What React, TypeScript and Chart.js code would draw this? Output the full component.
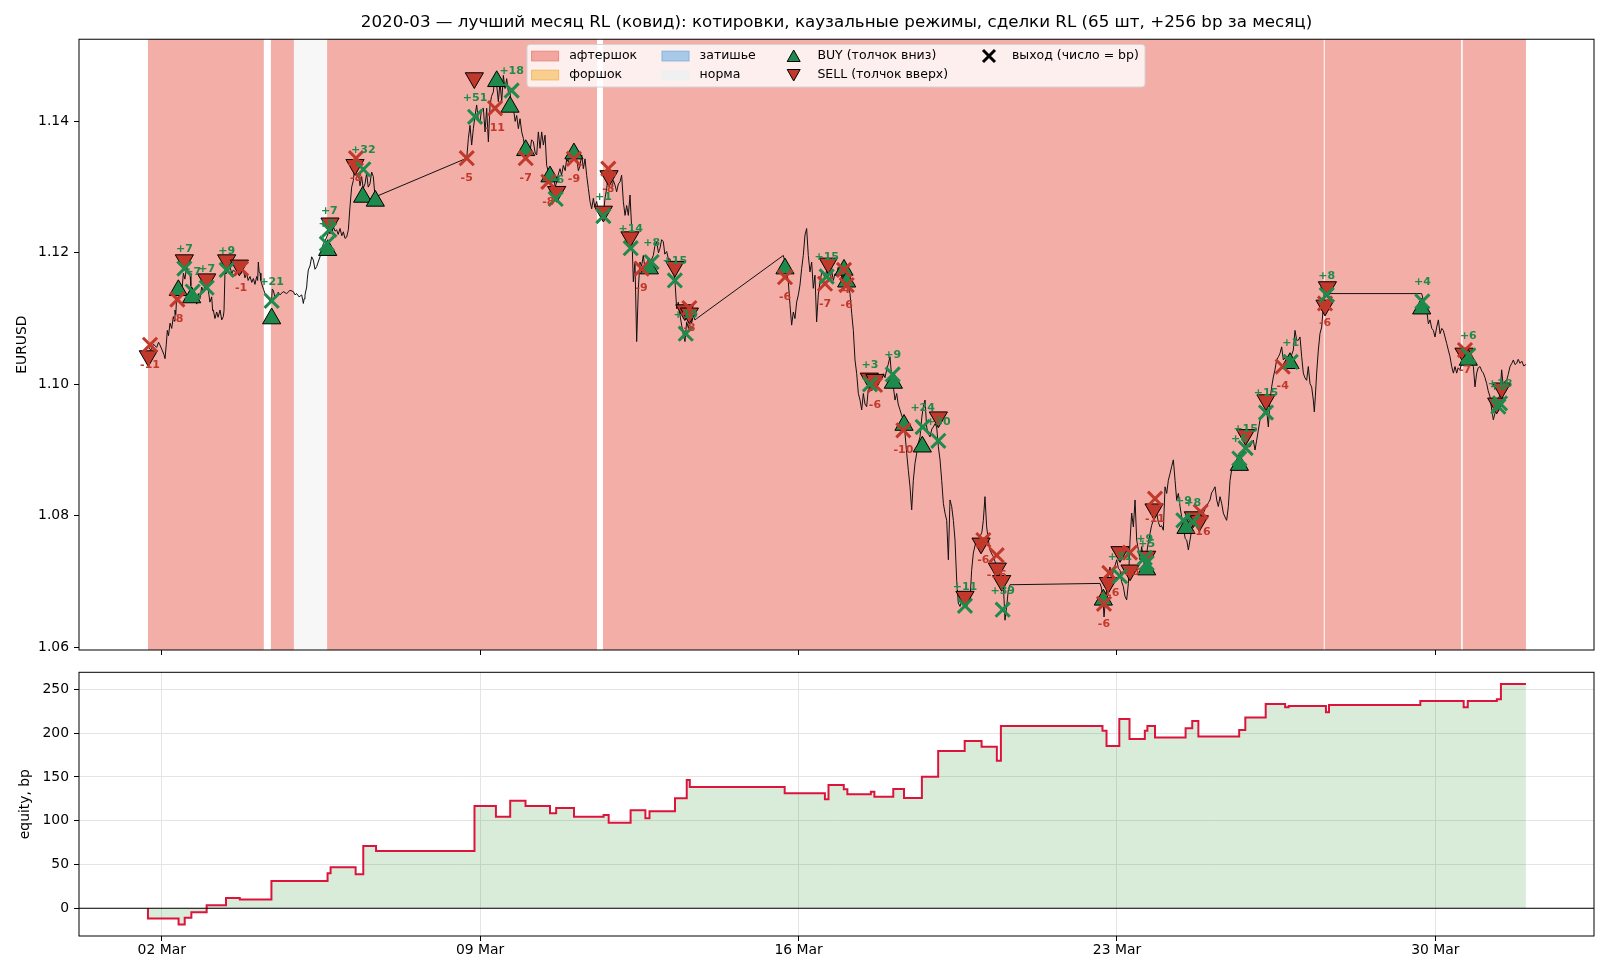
import { useEffect, useRef } from "react"
import { Chart, registerables } from "chart.js"
import type { Plugin } from "chart.js"

Chart.register(...registerables)
Chart.defaults.font.family = "'DejaVu Sans', sans-serif"
Chart.defaults.color = "#000"

const TITLE =
  "2020-03 — лучший месяц RL (ковид): котировки, каузальные режимы, сделки RL (65 шт, +256 bp за месяц)"

// time axis: days since 2020-03-01 00:00
const dateTicks = [1, 8, 15, 22, 29]
const dateLabels = ["02 Mar", "09 Mar", "16 Mar", "23 Mar", "30 Mar"]
const priceTicks = [1.06, 1.08, 1.1, 1.12, 1.14]
const equityTicks = [0, 50, 100, 150, 200, 250]

// [start, end, regime]
const regimes: [number, number, string][] = [
  [0.698, 3.245, "aftershock"],
  [3.4, 3.907, "aftershock"],
  [3.907, 4.636, "norm"],
  [4.636, 10.57, "aftershock"],
  [10.7, 26.545, "aftershock"],
  [26.567, 29.565, "aftershock"],
  [29.6, 30.99, "aftershock"],
]

// EURUSD, [day, price]
const priceWeek1: [number, number][] = [
  [0.71, 1.1057], [0.76, 1.1052], [0.82, 1.1061], [0.89, 1.1056], [0.93, 1.1064], [0.96, 1.106],
  [1.01, 1.1052], [1.05, 1.1045], [1.073, 1.1039], [1.1, 1.106], [1.124, 1.1082], [1.15, 1.1074],
  [1.183, 1.1093], [1.22, 1.1085], [1.256, 1.1103], [1.275, 1.1096], [1.292, 1.1113], [1.31, 1.1106],
  [1.329, 1.1133], [1.36, 1.1125], [1.403, 1.1148], [1.44, 1.114], [1.477, 1.1169], [1.51, 1.116],
  [1.549, 1.1179], [1.58, 1.1168], [1.623, 1.1169], [1.64, 1.115], [1.659, 1.1143], [1.7, 1.1128],
  [1.732, 1.1133], [1.77, 1.1122], [1.806, 1.1138], [1.84, 1.113], [1.879, 1.1148], [1.92, 1.114],
  [1.952, 1.1153], [1.99, 1.1147], [2.025, 1.1143], [2.06, 1.1125], [2.099, 1.1133], [2.12, 1.1112],
  [2.135, 1.1113], [2.17, 1.11], [2.209, 1.111], [2.24, 1.1102], [2.282, 1.1113], [2.32, 1.1098],
  [2.355, 1.1103], [2.37, 1.1112], [2.392, 1.1174], [2.41, 1.1168], [2.428, 1.1184], [2.46, 1.1172],
  [2.502, 1.1179], [2.54, 1.1168], [2.575, 1.1174], [2.63, 1.117], [2.685, 1.1179], [2.74, 1.1168],
  [2.795, 1.1174], [2.83, 1.1162], [2.868, 1.1169], [2.9, 1.1158], [2.941, 1.1164], [2.98, 1.1155],
  [3.015, 1.1161], [3.05, 1.1152], [3.088, 1.1164], [3.11, 1.1158], [3.124, 1.1186], [3.14, 1.1172],
  [3.161, 1.1169], [3.18, 1.1158], [3.198, 1.1153], [3.24, 1.1144], [3.271, 1.1138], [3.31, 1.1132],
  [3.344, 1.1131], [3.38, 1.1126], [3.417, 1.1128], [3.43, 1.1145], [3.454, 1.1143], [3.49, 1.1132],
  [3.527, 1.1133], [3.56, 1.114], [3.601, 1.1136], [3.67, 1.1141], [3.747, 1.1138], [3.82, 1.1143],
  [3.894, 1.1141], [3.93, 1.1136], [3.967, 1.1138], [4.02, 1.1133], [4.077, 1.1136], [4.1, 1.1128],
  [4.114, 1.1123], [4.13, 1.113], [4.15, 1.1136], [4.187, 1.1148], [4.2, 1.116], [4.223, 1.1174],
  [4.26, 1.118], [4.297, 1.1194], [4.333, 1.1189], [4.37, 1.1175], [4.407, 1.1179], [4.44, 1.1186],
  [4.48, 1.1194], [4.52, 1.1205], [4.553, 1.1214], [4.59, 1.1218], [4.627, 1.1224], [4.66, 1.123],
  [4.7, 1.1235], [4.74, 1.123], [4.773, 1.124], [4.81, 1.1233], [4.846, 1.1235], [4.88, 1.1228],
  [4.92, 1.1237], [4.96, 1.1226], [4.993, 1.1232], [5.03, 1.1222], [5.066, 1.1224], [5.103, 1.1235],
  [5.139, 1.127], [5.176, 1.13], [5.213, 1.131], [5.23, 1.1322], [5.249, 1.1331], [5.29, 1.1318],
  [5.322, 1.1321], [5.36, 1.1302], [5.395, 1.1316], [5.43, 1.1298], [5.469, 1.1305], [5.505, 1.1321],
  [5.54, 1.13], [5.578, 1.1305], [5.615, 1.1323], [5.652, 1.1316], [5.689, 1.1285],
]

const priceWeek2: [number, number][] = [
  [7.705, 1.1344], [7.741, 1.1374], [7.777, 1.1394], [7.814, 1.1364], [7.851, 1.1389], [7.888, 1.1409],
  [7.924, 1.1425], [7.96, 1.1402], [7.998, 1.1399], [8.03, 1.1418], [8.071, 1.142], [8.108, 1.1384],
  [8.144, 1.142], [8.181, 1.1369], [8.218, 1.1425], [8.25, 1.1438], [8.291, 1.1445], [8.328, 1.147],
  [8.364, 1.1455], [8.401, 1.143], [8.437, 1.146], [8.474, 1.143], [8.51, 1.147], [8.547, 1.145],
  [8.584, 1.1465], [8.62, 1.1445], [8.657, 1.1445], [8.69, 1.142], [8.731, 1.142], [8.77, 1.14],
  [8.804, 1.1409], [8.84, 1.1389], [8.877, 1.1404], [8.914, 1.1384], [8.95, 1.1374], [8.987, 1.1359],
  [9.024, 1.1349], [9.06, 1.136], [9.097, 1.1354], [9.13, 1.1372], [9.17, 1.1369], [9.21, 1.1352],
  [9.243, 1.1349], [9.28, 1.1384], [9.317, 1.1359], [9.353, 1.1384], [9.39, 1.1364], [9.427, 1.1379],
  [9.463, 1.1333], [9.5, 1.1323], [9.536, 1.1313], [9.57, 1.1325], [9.61, 1.1318], [9.65, 1.13],
  [9.683, 1.1308], [9.72, 1.132], [9.756, 1.1328], [9.79, 1.1318], [9.829, 1.1333], [9.87, 1.1325],
  [9.903, 1.1343], [9.94, 1.1338], [9.976, 1.1349], [10.01, 1.1345], [10.05, 1.1354], [10.09, 1.135],
  [10.123, 1.1343], [10.16, 1.1325], [10.196, 1.1333], [10.233, 1.1349], [10.269, 1.1328], [10.306, 1.1343],
  [10.342, 1.1318], [10.379, 1.1298], [10.416, 1.1278], [10.452, 1.1267], [10.489, 1.1283], [10.52, 1.127],
  [10.562, 1.1278], [10.6, 1.1262], [10.635, 1.1267], [10.67, 1.125], [10.709, 1.1257], [10.745, 1.1283],
  [10.782, 1.1298], [10.818, 1.1318], [10.85, 1.13], [10.892, 1.1298], [10.93, 1.131], [10.965, 1.1303],
  [11.001, 1.1293], [11.04, 1.1305], [11.075, 1.1308], [11.111, 1.1318], [11.148, 1.1278], [11.185, 1.1257],
  [11.221, 1.1272], [11.258, 1.1257], [11.295, 1.1288], [11.331, 1.1237], [11.368, 1.1156], [11.404, 1.1186],
  [11.441, 1.1065], [11.478, 1.1146], [11.514, 1.1186], [11.55, 1.118], [11.587, 1.1196], [11.62, 1.1178],
  [11.661, 1.1186], [11.7, 1.117], [11.734, 1.1176], [11.77, 1.119], [11.807, 1.1196], [11.84, 1.121],
  [11.881, 1.1217], [11.92, 1.12], [11.954, 1.1207], [11.99, 1.122], [12.027, 1.1217], [12.06, 1.1198],
  [12.101, 1.1202], [12.14, 1.119], [12.174, 1.1191], [12.21, 1.118], [12.247, 1.1176], [12.284, 1.1156],
  [12.321, 1.1115], [12.357, 1.1125], [12.394, 1.1105], [12.43, 1.109], [12.467, 1.1075], [12.504, 1.1065],
  [12.54, 1.1095], [12.58, 1.1085], [12.614, 1.11], [12.65, 1.1093], [12.687, 1.1105], [12.72, 1.1098],
  [12.76, 1.11],
]

const priceWeek3: [number, number][] = [
  [14.665, 1.1196], [14.702, 1.1186], [14.74, 1.117], [14.775, 1.1156], [14.811, 1.1121], [14.848, 1.109],
  [14.885, 1.111], [14.921, 1.11], [14.958, 1.1125], [14.995, 1.1136], [15.031, 1.1151], [15.068, 1.1176],
  [15.104, 1.1196], [15.141, 1.1227], [15.178, 1.1237], [15.214, 1.1196], [15.251, 1.1171], [15.288, 1.1186],
  [15.324, 1.1146], [15.361, 1.1166], [15.397, 1.1095], [15.434, 1.1136], [15.471, 1.1156], [15.51, 1.117],
  [15.544, 1.1171], [15.58, 1.116], [15.618, 1.1174], [15.66, 1.1162], [15.691, 1.1161], [15.73, 1.1172],
  [15.764, 1.1158], [15.8, 1.1168], [15.837, 1.1166], [15.87, 1.1178], [15.911, 1.1174], [15.95, 1.1162],
  [15.984, 1.1166], [16.02, 1.1172], [16.058, 1.1164], [16.095, 1.115], [16.131, 1.1138], [16.168, 1.1108],
  [16.204, 1.1082], [16.241, 1.1037], [16.278, 1.1016], [16.314, 1.0986], [16.351, 1.0976], [16.388, 1.0961],
  [16.424, 1.0986], [16.46, 1.097], [16.497, 1.0966], [16.53, 1.099], [16.571, 1.0996], [16.61, 1.099],
  [16.644, 1.1006], [16.68, 1.0998], [16.717, 1.1011], [16.75, 1.1], [16.791, 1.1006], [16.83, 1.1012],
  [16.864, 1.1016], [16.9, 1.101], [16.937, 1.1022], [16.97, 1.103], [17.01, 1.1042], [17.047, 1.1011],
  [17.084, 1.0996], [17.12, 1.0976], [17.157, 1.0986], [17.19, 1.097], [17.23, 1.0961], [17.27, 1.0952],
  [17.304, 1.0946], [17.34, 1.0925], [17.377, 1.0895], [17.413, 1.0869], [17.45, 1.0844], [17.487, 1.0809],
  [17.523, 1.0854], [17.56, 1.088], [17.597, 1.0895], [17.63, 1.091], [17.67, 1.092], [17.71, 1.095],
  [17.743, 1.0966], [17.78, 1.0976], [17.816, 1.0935], [17.85, 1.0925], [17.89, 1.092], [17.93, 1.0932],
  [17.963, 1.0935], [18.0, 1.094], [18.036, 1.0935], [18.073, 1.0905], [18.11, 1.0885], [18.146, 1.0854],
  [18.183, 1.0819], [18.219, 1.0804], [18.256, 1.0793], [18.293, 1.0733], [18.329, 1.0824], [18.366, 1.0814],
  [18.403, 1.0793], [18.439, 1.0763], [18.476, 1.0702], [18.512, 1.0667], [18.549, 1.0662], [18.585, 1.067],
  [18.622, 1.0667], [18.66, 1.066], [18.696, 1.0662], [18.73, 1.0668], [18.769, 1.0672], [18.805, 1.0717],
  [18.842, 1.0743], [18.88, 1.0755], [18.915, 1.0763], [18.95, 1.0758], [18.989, 1.0768], [19.03, 1.0775],
  [19.062, 1.0793], [19.098, 1.0829], [19.135, 1.0783], [19.172, 1.0763], [19.208, 1.0748], [19.245, 1.0742],
  [19.281, 1.0738], [19.32, 1.073], [19.355, 1.0723], [19.39, 1.0718], [19.428, 1.0712], [19.465, 1.0705],
  [19.501, 1.0697], [19.538, 1.0641], [19.575, 1.0662], [19.611, 1.0687], [19.648, 1.0695],
]

const priceWeek4: [number, number][] = [
  [21.627, 1.0697], [21.66, 1.069], [21.7, 1.0662], [21.715, 1.0646], [21.745, 1.067], [21.774, 1.0687],
  [21.81, 1.0712], [21.847, 1.0722], [21.884, 1.0702], [21.92, 1.0717], [21.96, 1.0725], [21.994, 1.0733],
  [22.03, 1.072], [22.067, 1.0717], [22.1, 1.07], [22.14, 1.0692], [22.177, 1.0677], [22.213, 1.0672],
  [22.25, 1.0697], [22.287, 1.0763], [22.323, 1.0804], [22.36, 1.0783], [22.397, 1.0824], [22.433, 1.0763],
  [22.47, 1.0748], [22.506, 1.0733], [22.543, 1.0753], [22.58, 1.0733], [22.615, 1.074], [22.653, 1.0743],
  [22.69, 1.076], [22.726, 1.0773], [22.76, 1.0785], [22.799, 1.0793], [22.836, 1.0814], [22.873, 1.0804],
  [22.91, 1.079], [22.946, 1.0783], [22.98, 1.0785], [23.019, 1.0778], [23.056, 1.0844], [23.093, 1.0834],
  [23.129, 1.0854], [23.166, 1.0864], [23.202, 1.0875], [23.239, 1.0885], [23.276, 1.0854], [23.312, 1.0824],
  [23.349, 1.0834], [23.386, 1.0814], [23.422, 1.0798], [23.459, 1.0783], [23.5, 1.0765], [23.532, 1.0763],
  [23.569, 1.0748], [23.605, 1.0763], [23.64, 1.0778], [23.679, 1.0793], [23.715, 1.08], [23.752, 1.0804],
  [23.79, 1.0795], [23.825, 1.0793], [23.86, 1.08], [23.899, 1.0804], [23.935, 1.081], [23.972, 1.0814],
  [24.01, 1.082], [24.045, 1.0824], [24.08, 1.0835], [24.118, 1.0839], [24.155, 1.0844], [24.192, 1.0824],
  [24.228, 1.0814], [24.265, 1.0829], [24.301, 1.0819], [24.338, 1.0804], [24.375, 1.0798], [24.411, 1.0793],
  [24.448, 1.0814], [24.485, 1.0854], [24.521, 1.087], [24.558, 1.0875], [24.595, 1.088], [24.631, 1.0885],
  [24.67, 1.0888], [24.704, 1.089], [24.74, 1.0893], [24.778, 1.0895], [24.81, 1.0902], [24.851, 1.0905],
  [24.924, 1.0905], [24.997, 1.0915], [25.034, 1.09], [25.071, 1.0915], [25.107, 1.093], [25.144, 1.0946],
  [25.18, 1.095], [25.217, 1.0956], [25.255, 1.0958], [25.29, 1.0961], [25.327, 1.0935], [25.364, 1.0976],
  [25.4, 1.0996], [25.437, 1.1011], [25.473, 1.1022], [25.51, 1.1037], [25.55, 1.1042], [25.583, 1.1047],
  [25.62, 1.1057], [25.657, 1.1037], [25.69, 1.104], [25.73, 1.1042], [25.77, 1.1035], [25.803, 1.1037],
  [25.84, 1.1045], [25.876, 1.1052], [25.913, 1.1082], [25.95, 1.1067], [25.986, 1.1067], [26.023, 1.1072],
  [26.06, 1.1042], [26.096, 1.1017], [26.13, 1.101], [26.169, 1.1006], [26.206, 1.1027], [26.243, 1.1001],
  [26.279, 1.0996], [26.316, 1.0976], [26.338, 1.0958], [26.36, 1.0981], [26.389, 1.1017], [26.426, 1.1052],
  [26.462, 1.1077], [26.499, 1.1087], [26.536, 1.1118], [26.55, 1.1138],
]

const priceWeek5: [number, number][] = [
  [28.698, 1.1138], [28.735, 1.1128], [28.77, 1.112], [28.808, 1.1113], [28.845, 1.1092], [28.881, 1.1098],
  [28.92, 1.1085], [28.955, 1.1082], [28.991, 1.1072], [29.028, 1.1087], [29.065, 1.1098], [29.101, 1.1077],
  [29.14, 1.1085], [29.174, 1.1082], [29.211, 1.1072], [29.248, 1.1062], [29.284, 1.1052], [29.321, 1.1042],
  [29.358, 1.1027], [29.394, 1.1017], [29.431, 1.1027], [29.467, 1.1017], [29.5, 1.1025], [29.541, 1.1022],
  [29.577, 1.1032], [29.614, 1.1037], [29.65, 1.1045], [29.687, 1.1042], [29.72, 1.1035], [29.761, 1.1032],
  [29.8, 1.103], [29.834, 1.1027], [29.87, 1.0996], [29.907, 1.1017], [29.94, 1.1025], [29.98, 1.1027],
  [30.02, 1.102], [30.054, 1.1017], [30.09, 1.101], [30.127, 1.1001], [30.16, 1.099], [30.2, 1.0981],
  [30.24, 1.096], [30.273, 1.0946], [30.31, 1.0956], [30.347, 1.0966], [30.38, 1.0975], [30.42, 1.0986],
  [30.456, 1.1022], [30.493, 1.0996], [30.53, 1.1005], [30.566, 1.1006], [30.6, 1.1015], [30.64, 1.1027],
  [30.68, 1.1032], [30.713, 1.1037], [30.75, 1.103], [30.786, 1.1032], [30.82, 1.1038], [30.859, 1.1032],
  [30.9, 1.1035], [30.94, 1.1028], [30.99, 1.103],
]

// RL entries, [day, price]
const buyEntries: [number, number][] = [
  [1.366, 1.1143], [1.659, 1.1132], [3.417, 1.11], [4.649, 1.1204], [5.418, 1.1285], [5.696, 1.1279],
  [8.364, 1.1461], [8.657, 1.1422], [9.002, 1.1356], [9.536, 1.1316], [10.062, 1.1351], [11.72, 1.1176],
  [14.702, 1.1176], [15.999, 1.1174], [16.058, 1.1156], [17.084, 1.1002], [17.318, 1.0938], [17.721, 1.0905],
  [21.7, 1.0672], [22.652, 1.0718], [23.517, 1.0781], [24.69, 1.0877], [25.803, 1.1032],
  [28.698, 1.1115], [29.723, 1.1037],
]

const sellEntries: [number, number][] = [
  [0.706, 1.1043], [1.498, 1.1189], [1.989, 1.116], [2.428, 1.1189], [2.707, 1.1181], [4.7, 1.1245],
  [5.249, 1.1334],
  [7.873, 1.1466], [9.683, 1.1293], [10.709, 1.1263], [10.833, 1.1317], [11.295, 1.1224], [12.28, 1.1179],
  [12.5, 1.1113], [12.6, 1.1108],
  [15.654, 1.1184], [16.555, 1.1009], [16.679, 1.1007], [18.073, 1.095], [18.658, 1.0677], [19.011, 1.0758],
  [19.37, 1.072], [19.465, 1.0701],
  [21.81, 1.0698], [22.066, 1.0745], [22.286, 1.0717], [22.652, 1.0738], [22.814, 1.081], [23.678, 1.0798],
  [23.81, 1.0792], [24.828, 1.0923], [25.275, 1.0976], [26.573, 1.112], [26.625, 1.1148],
  [29.628, 1.1047], [30.347, 1.0971], [30.456, 1.0994],
]

// exits, [day, price, bp]
const exits: [number, number, number][] = [
  [0.743, 1.106, -11], [1.344, 1.1129, -8], [1.498, 1.1176, 7], [1.681, 1.1141, 7], [1.989, 1.1147, 7],
  [2.428, 1.1174, 9], [2.744, 1.1176, -1], [3.417, 1.1127, 21], [4.63, 1.1214, 8], [4.685, 1.1235, 7],
  [5.271, 1.1344, -8], [5.433, 1.1327, 32], [7.705, 1.1344, -5],
  [7.888, 1.1407, 51], [8.327, 1.142, -11], [8.693, 1.1447, 18], [9.002, 1.1344, -7], [9.5, 1.1308, -8],
  [9.661, 1.1282, 6], [10.062, 1.1343, -9], [10.709, 1.1256, 1], [10.818, 1.1328, -8], [11.31, 1.1207, 14],
  [11.55, 1.1176, -9], [11.77, 1.1186, 8], [12.28, 1.1158, 15], [12.52, 1.1077, 19], [12.6, 1.1116, -8],
  [14.702, 1.1163, -6], [15.581, 1.1153, -7], [15.618, 1.1164, 15], [15.999, 1.1174, -4], [16.058, 1.1151, -6],
  [16.57, 1.1, 3], [16.68, 1.0999, -6], [17.069, 1.1015, 9], [17.304, 1.093, -10], [17.728, 1.0935, 24],
  [18.073, 1.0914, 30], [18.658, 1.0663, 11], [19.062, 1.0763, -6], [19.355, 1.074, -16], [19.487, 1.0657, 39],
  [21.714, 1.0666, -6], [21.832, 1.0713, -16], [22.066, 1.0708, 31], [22.286, 1.0744, -23], [22.61, 1.0736, 9],
  [22.652, 1.0728, 5], [22.836, 1.0826, -11], [23.459, 1.0793, 9], [23.664, 1.0791, 8], [23.84, 1.0806, -16],
  [24.69, 1.0887, 6], [24.828, 1.0903, 15], [25.275, 1.0957, 15], [25.643, 1.1027, -4], [25.818, 1.1034, 1],
  [26.573, 1.1123, -6], [26.61, 1.1136, 8],
  [28.713, 1.1126, 4], [29.65, 1.1052, -7], [29.723, 1.1044, 6], [30.383, 1.0966, 3], [30.42, 1.0971, 18],
]

// cumulative equity, [day, bp] (value holds from that day on)
const equitySteps: [number, number][] = [
  [0.698, 0], [0.698, -11.5], [1.371, -18.5], [1.506, -10.9], [1.652, -4.5], [1.988, 3.4], [2.414, 11.8],
  [2.717, 10.2], [3.412, 31.2], [4.646, 40], [4.713, 46.8], [5.263, 38.8], [5.431, 71], [5.712, 65.4],
  [7.876, 116.8], [8.347, 104.6], [8.661, 122.9], [8.998, 116.8], [9.536, 108.4], [9.671, 114.5],
  [10.063, 104.6], [10.714, 106.5], [10.826, 97.8], [11.308, 111.8], [11.633, 102.7], [11.723, 110.7],
  [12.284, 125.5], [12.542, 146.5], [12.609, 138.5], [14.695, 131.2], [15.579, 124.4], [15.658, 140.7],
  [15.994, 135.8], [16.073, 130.1], [16.589, 133.1], [16.667, 127.4], [17.082, 136.2], [17.318, 125.9],
  [17.711, 150.3], [18.069, 179.6], [18.652, 191], [19.023, 184.5], [19.359, 168.5], [19.448, 208.1],
  [21.681, 202.8], [21.77, 185.3], [22.051, 216.1], [22.275, 193.3], [22.612, 202.8], [22.668, 208.1],
  [22.836, 195], [23.508, 205.4], [23.654, 213.8], [23.789, 196.2], [24.686, 203.4], [24.821, 217.9],
  [25.269, 233.2], [25.696, 229.4], [25.774, 230.9], [26.593, 223.8], [26.66, 232.1], [28.668, 236.6],
  [29.621, 229.4], [29.711, 236.6], [30.351, 238.6], [30.44, 256], [30.99, 256],
]

const X_MIN = -0.818
const X_MAX = 32.486
const GREEN = "#1e8a4c"
const RED = "#c0392b"
const REGIME_FILL: Record<string, string> = { aftershock: "#f4aea8", norm: "#f7f7f7" }

const xy = (rows: number[][]) => rows.map(([x, y]) => ({ x, y }))

const frame: Plugin = {
  id: "frame",
  afterDraw(chart) {
    const { ctx, chartArea: a } = chart
    ctx.save()
    ctx.strokeStyle = "#000"
    ctx.lineWidth = 1
    ctx.strokeRect(a.left, a.top, a.right - a.left, a.bottom - a.top)
    ctx.restore()
  },
}

const regimeShading: Plugin = {
  id: "regimeShading",
  beforeDatasetsDraw(chart) {
    const { ctx, chartArea: a, scales } = chart
    ctx.save()
    for (const [s, e, kind] of regimes) {
      const x0 = scales.x.getPixelForValue(s)
      const x1 = scales.x.getPixelForValue(e)
      ctx.fillStyle = REGIME_FILL[kind]
      ctx.fillRect(x0, a.top, x1 - x0, a.bottom - a.top)
    }
    ctx.restore()
  },
}

const tradeLabels: Plugin = {
  id: "tradeLabels",
  afterDatasetsDraw(chart) {
    const { ctx, scales } = chart
    ctx.save()
    ctx.font = "bold 11px 'DejaVu Sans'"
    ctx.textAlign = "center"
    ctx.textBaseline = "middle"
    for (const [t, p, bp] of exits) {
      const px = scales.x.getPixelForValue(t)
      const py = scales.y.getPixelForValue(p)
      ctx.fillStyle = bp > 0 ? GREEN : RED
      ctx.fillText(bp > 0 ? `+${bp}` : `${bp}`, px, bp > 0 ? py - 19 : py + 20)
    }
    ctx.restore()
  },
}

function tri(ctx: CanvasRenderingContext2D, x: number, y: number, up: boolean, fill: string) {
  const d = up ? 1 : -1
  ctx.beginPath()
  ctx.moveTo(x, y - 6 * d)
  ctx.lineTo(x - 6.5, y + 5.5 * d)
  ctx.lineTo(x + 6.5, y + 5.5 * d)
  ctx.closePath()
  ctx.fillStyle = fill
  ctx.fill()
  ctx.strokeStyle = "#000"
  ctx.lineWidth = 1
  ctx.stroke()
}

const customLegend: Plugin = {
  id: "customLegend",
  afterDraw(chart) {
    const ctx = chart.ctx
    ctx.save()
    ctx.beginPath()
    ctx.roundRect(527, 44.5, 618, 42.5, 3)
    ctx.fillStyle = "rgba(255,255,255,0.8)"
    ctx.fill()
    ctx.strokeStyle = "#d4d4d4"
    ctx.lineWidth = 1
    ctx.stroke()

    const patch = (x: number, y: number, fill: string, edge: string) => {
      ctx.fillStyle = fill
      ctx.fillRect(x, y - 4.8, 27, 9.7)
      ctx.strokeStyle = edge
      ctx.strokeRect(x, y - 4.8, 27, 9.7)
    }
    const r1 = 56
    const r2 = 75
    patch(531.6, r1, "#f3a59f", "#ea8a83")
    patch(531.6, r2, "#f9cf8f", "#f4b866")
    patch(662, r1, "#a9c9e9", "#84b2de")
    patch(662, r2, "#f0f0f0", "#f0f0f0")
    tri(ctx, 793.7, r1, true, GREEN)
    tri(ctx, 793.7, r2, false, RED)
    ctx.strokeStyle = "#000"
    ctx.lineWidth = 3
    ctx.beginPath()
    ctx.moveTo(983, r1 - 6)
    ctx.lineTo(995, r1 + 6)
    ctx.moveTo(995, r1 - 6)
    ctx.lineTo(983, r1 + 6)
    ctx.stroke()

    ctx.fillStyle = "#000"
    ctx.font = "12.5px 'DejaVu Sans'"
    ctx.textBaseline = "middle"
    ctx.textAlign = "left"
    ctx.fillText("афтершок", 569.2, r1)
    ctx.fillText("форшок", 569.2, r2)
    ctx.fillText("затишье", 699.6, r1)
    ctx.fillText("норма", 699.6, r2)
    ctx.fillText("BUY (толчок вниз)", 817.4, r1)
    ctx.fillText("SELL (толчок вверх)", 817.4, r2)
    ctx.fillText("выход (число = bp)", 1011.9, r1)
    ctx.restore()
  },
}

const zeroLine: Plugin = {
  id: "zeroLine",
  afterDatasetsDraw(chart) {
    const { ctx, chartArea: a, scales } = chart
    const y = scales.y.getPixelForValue(0)
    ctx.save()
    ctx.strokeStyle = "#000"
    ctx.lineWidth = 1.1
    ctx.beginPath()
    ctx.moveTo(a.left, y)
    ctx.lineTo(a.right, y)
    ctx.stroke()
    ctx.restore()
  },
}

const tickFont = { size: 13.9 }

function PriceChart() {
  const chartRef = useRef<HTMLCanvasElement>(null)

  useEffect(() => {
    if (!chartRef.current) return
    const price = [...priceWeek1, ...priceWeek2, ...priceWeek3, ...priceWeek4, ...priceWeek5]
    const chart = new Chart(chartRef.current, {
      type: "scatter",
      data: {
        datasets: [
          {
            type: "line",
            data: xy(price),
            borderColor: "#111",
            borderWidth: 1,
            pointRadius: 0,
            tension: 0,
            order: 3,
          },
          {
            data: xy(buyEntries),
            pointStyle: "triangle",
            pointRadius: 10.5,
            pointBackgroundColor: GREEN,
            pointBorderColor: "#000",
            pointBorderWidth: 1,
            order: 2,
          },
          {
            data: xy(sellEntries),
            pointStyle: "triangle",
            pointRotation: 180,
            pointRadius: 10.5,
            pointBackgroundColor: RED,
            pointBorderColor: "#000",
            pointBorderWidth: 1,
            order: 2,
          },
          {
            data: xy(exits.filter((e) => e[2] > 0)),
            pointStyle: "crossRot",
            pointRadius: 10,
            pointBorderColor: GREEN,
            pointBorderWidth: 3,
            order: 1,
          },
          {
            data: xy(exits.filter((e) => e[2] < 0)),
            pointStyle: "crossRot",
            pointRadius: 10,
            pointBorderColor: RED,
            pointBorderWidth: 3,
            order: 1,
          },
        ],
      },
      options: {
        animation: false,
        responsive: false,
        devicePixelRatio: 1,
        events: [],
        layout: { padding: { top: 0, right: 16, bottom: 0, left: 0 }, autoPadding: false },
        plugins: {
          legend: { display: false },
          tooltip: { enabled: false },
          title: {
            display: true,
            text: TITLE,
            fullSize: false,
            color: "#000",
            font: { size: 16.7, weight: "normal" },
            padding: { top: 13, bottom: 6.2 },
          },
        },
        scales: {
          x: {
            type: "linear",
            min: X_MIN,
            max: X_MAX,
            afterBuildTicks: (s) => {
              s.ticks = dateTicks.map((value) => ({ value }))
            },
            afterFit: (s) => {
              s.height = 10
              s.paddingLeft = 0
              s.paddingRight = 0
            },
            ticks: { display: false },
            grid: { drawOnChartArea: false, tickLength: 5, tickColor: "#000" },
            border: { display: false },
          },
          y: {
            min: 1.05957,
            max: 1.1525,
            afterBuildTicks: (s) => {
              s.ticks = priceTicks.map((value) => ({ value }))
            },
            afterFit: (s) => {
              s.width = 79
              s.paddingTop = 0
              s.paddingBottom = 0
            },
            ticks: { callback: (v) => Number(v).toFixed(2), color: "#000", font: tickFont, padding: 5 },
            grid: { drawOnChartArea: false, tickLength: 5, tickColor: "#000" },
            border: { display: false },
            title: { display: true, text: "EURUSD", color: "#000", font: tickFont, padding: { top: 14, bottom: 0 } },
          },
        },
      },
      plugins: [regimeShading, tradeLabels, customLegend, frame],
    })

    return () => chart.destroy()
  }, [])

  return <canvas ref={chartRef} width={1610} height={660} style={{ display: "block" }} />
}

function EquityChart() {
  const chartRef = useRef<HTMLCanvasElement>(null)

  useEffect(() => {
    if (!chartRef.current) return
    const chart = new Chart(chartRef.current, {
      type: "line",
      data: {
        datasets: [
          {
            data: xy(equitySteps),
            stepped: "before",
            borderColor: "#dc143c",
            borderWidth: 2,
            pointRadius: 0,
            fill: { target: "origin", above: "rgba(0,128,0,0.15)", below: "rgba(0,128,0,0.15)" },
          },
        ],
      },
      options: {
        animation: false,
        responsive: false,
        devicePixelRatio: 1,
        events: [],
        layout: { padding: { top: 12.3, right: 16, bottom: 0, left: 0 }, autoPadding: false },
        plugins: { legend: { display: false }, tooltip: { enabled: false } },
        scales: {
          x: {
            type: "linear",
            min: X_MIN,
            max: X_MAX,
            afterBuildTicks: (s) => {
              s.ticks = dateTicks.map((value) => ({ value }))
            },
            afterFit: (s) => {
              s.height = 41
              s.paddingLeft = 0
              s.paddingRight = 0
            },
            ticks: {
              callback: (v) => dateLabels[dateTicks.indexOf(Number(v))] ?? "",
              color: "#000",
              font: tickFont,
              padding: 1,
              maxRotation: 0,
            },
            grid: { color: "#e4e4e4", tickLength: 5, tickColor: "#000" },
            border: { display: false },
          },
          y: {
            min: -31.6,
            max: 269.4,
            afterBuildTicks: (s) => {
              s.ticks = equityTicks.map((value) => ({ value }))
            },
            afterFit: (s) => {
              s.width = 79
              s.paddingTop = 0
              s.paddingBottom = 0
            },
            ticks: { color: "#000", font: tickFont, padding: 5 },
            grid: { color: "#e4e4e4", tickLength: 5, tickColor: "#000" },
            border: { display: false },
            title: { display: true, text: "equity, bp", color: "#000", font: tickFont, padding: { top: 17, bottom: 0 } },
          },
        },
      },
      plugins: [zeroLine, frame],
    })

    return () => chart.destroy()
  }, [])

  return <canvas ref={chartRef} width={1610} height={317} style={{ display: "block" }} />
}

export default function App() {
  return (
    <div style={{ position: "absolute", left: 0, top: 0, width: 1610, height: 977, background: "#fff" }}>
      <PriceChart />
      <EquityChart />
    </div>
  )
}
